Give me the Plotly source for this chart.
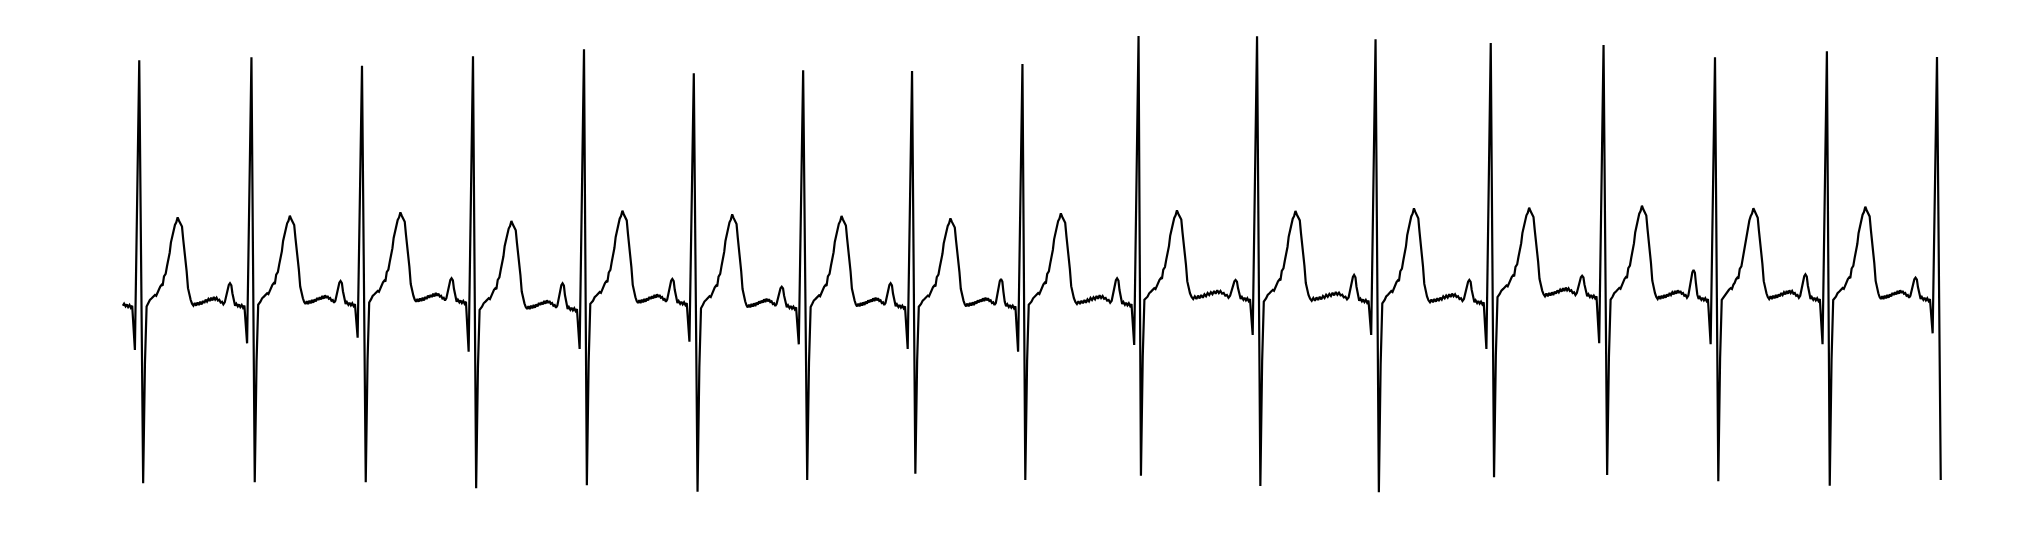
import plotly.graph_objects as go

# ---- per-beat values (time in s, amplitude in mV) ----
r_time = [0.115, 0.863, 1.600, 2.340, 3.080, 3.812, 4.541, 5.267, 6.003,
          6.777, 7.567, 8.357, 9.125, 9.877, 10.620, 11.366, 12.100]
r_amp = [2.417, 2.447, 2.363, 2.457, 2.527, 2.287, 2.317, 2.310, 2.380,
         2.660, 2.657, 2.627, 2.590, 2.570, 2.447, 2.507, 2.450]
s_time = [0.141, 0.885, 1.625, 2.361, 3.099, 3.837, 4.568, 5.289, 6.022,
          6.793, 7.589, 8.379, 9.147, 9.901, 10.642, 11.385, 12.125]
s_amp = [-1.813, -1.803, -1.803, -1.863, -1.833, -1.897, -1.780, -1.717, -1.780,
         -1.737, -1.840, -1.903, -1.753, -1.730, -1.793, -1.837, -1.780]
q_amp = [-0.480, -0.413, -0.357, -0.497, -0.470, -0.397, -0.423, -0.470, -0.497,
         -0.430, -0.330, -0.330, -0.470, -0.413, -0.423, -0.423, -0.313]

# per inter-beat segment (16): baseline level, T-wave peak, P-wave peak
base_lvl = [0.003, 0.020, 0.043, -0.030, 0.030, -0.013, -0.003, -0.003,
            0.020, 0.070, 0.053, 0.037, 0.097, 0.070, 0.070, 0.070]
t_amp = [0.847, 0.863, 0.897, 0.810, 0.913, 0.877, 0.860, 0.837,
         0.887, 0.917, 0.910, 0.937, 0.943, 0.963, 0.937, 0.953]
p_amp = [0.187, 0.210, 0.237, 0.187, 0.230, 0.153, 0.187, 0.230,
         0.237, 0.220, 0.270, 0.220, 0.263, 0.320, 0.277, 0.243]

# ---- wave shape pieces read from the first beat ----
q_dt = -0.029
rec_dt = [0.012, 0.023]
rec_frac = [0.34, 0.026]
t_dt = [0.060, 0.071, 0.083, 0.093, 0.105, 0.113, 0.123, 0.131, 0.140, 0.149,
        0.156, 0.165, 0.176, 0.185, 0.193, 0.203, 0.211, 0.220, 0.229, 0.238,
        0.247, 0.256, 0.265, 0.276, 0.285, 0.293, 0.305, 0.316, 0.325, 0.333, 0.343]
t_frac = [-0.02, 0.02, 0.04, 0.06, 0.08, 0.07, 0.12, 0.14, 0.18, 0.20,
          0.19, 0.30, 0.33, 0.42, 0.48, 0.58, 0.70, 0.78, 0.86, 0.91,
          0.94, 1.00, 0.96, 0.92, 0.89, 0.74, 0.56, 0.36, 0.16, 0.08, 0.02]
noise_mv = [-0.020, -0.040, -0.013, -0.040, -0.007, -0.033, 0.000, -0.027, 0.007,
            -0.013, 0.020, 0.000, 0.027, 0.007, 0.040, 0.013, 0.047, 0.020,
            0.040, 0.013, 0.020, -0.007, 0.000, -0.027, -0.007]
p_dt = [-0.169, -0.161, -0.151, -0.143, -0.134, -0.127, -0.118]
p_frac = [0.28, 0.64, 0.91, 1.00, 0.89, 0.46, 0.02]
preq_dt = [-0.109, -0.101, -0.091, -0.083, -0.074, -0.065, -0.056, -0.047]
preq_mv = [-0.040, -0.020, -0.047, -0.027, -0.053, -0.033, -0.060, -0.040]

t, v = [], []
for dt, mv in zip(preq_dt, preq_mv):
    t.append(r_time[0] + dt)
    v.append(base_lvl[0] + mv)
n = len(r_time)
for i in range(n):
    t += [r_time[i] + q_dt, r_time[i], s_time[i]]
    v += [q_amp[i], r_amp[i], s_amp[i]]
    if i == n - 1:
        break
    b = base_lvl[i]
    for dt, f in zip(rec_dt, rec_frac):
        t.append(s_time[i] + dt)
        v.append(b + f * (s_amp[i] - b))
    for dt, f in zip(t_dt, t_frac):
        t.append(r_time[i] + dt)
        v.append(b + f * (t_amp[i] - b))
    t0 = r_time[i] + t_dt[-1]
    t1 = r_time[i + 1] + p_dt[0]
    m = len(noise_mv)
    for k, mv in enumerate(noise_mv):
        t.append(t0 + (t1 - t0) * (k + 1) / (m + 1))
        v.append(b + mv)
    for dt, f in zip(p_dt, p_frac):
        t.append(r_time[i + 1] + dt)
        v.append(b + f * (p_amp[i] - b))
    for dt, mv in zip(preq_dt, preq_mv):
        t.append(r_time[i + 1] + dt)
        v.append(b + mv)

fig = go.Figure(go.Scatter(x=t, y=v, mode="lines",
                           line=dict(color="black", width=2.2)))
fig.update_layout(
    width=2035, height=538,
    margin=dict(l=114, r=100, t=12, b=36),
    paper_bgcolor="white", plot_bgcolor="white",
    showlegend=False,
    xaxis=dict(range=[0, 12.14], visible=False),
    yaxis=dict(range=[-2.08, 2.82], visible=False),
)
fig.write_html("out.html")
